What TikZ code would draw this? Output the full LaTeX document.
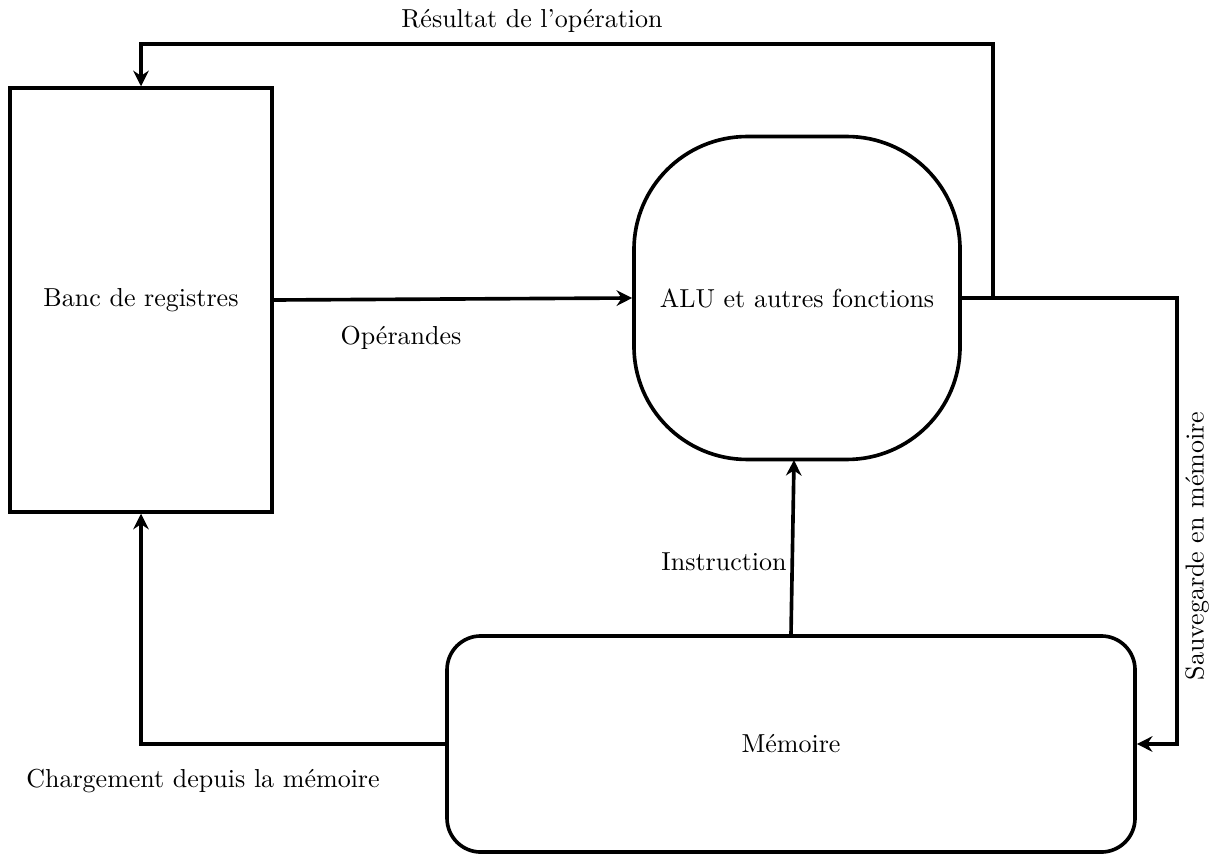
\documentclass[tikz,border=0pt]{standalone}
\usepackage{fontspec}
\usetikzlibrary{arrows.meta}
\begin{document}
\begin{tikzpicture}[x=0.3846pt,y=-0.3846pt,
  blockbox/.style={draw,line width=1.4pt,inner sep=0pt,font=\normalsize},
  arr/.style={line width=1.4pt,-{Stealth[length=6pt,width=6pt,inset=2pt]}},
  lbl/.style={inner sep=0pt,font=\normalsize}]
\useasboundingbox (0,0) rectangle (1216,855);

% blocks
\node[blockbox,minimum width=100.8pt,minimum height=163pt] (banc) at (141,300) {Banc de registres};
\node[blockbox,rounded corners=43.5pt,minimum width=125.4pt,minimum height=124.2pt] (alu) at (797,298) {ALU et autres fonctions};
\node[blockbox,rounded corners=13pt,minimum width=264.6pt,minimum height=83.1pt] (mem) at (791,744) {Mémoire};

% routing points
\coordinate (rtop) at (993,44);
\coordinate (rside) at (1177,298);
\coordinate (instr) at (794,460);

% connectors
\draw[arr] (banc.east) -- (alu.west);
\draw[arr] (alu.east) -| (rtop) -| (banc.north);
\draw[arr] (alu.east) -- (rside) |- (mem.east);
\draw[arr] (mem.north) -- (instr);
\draw[arr] (mem.west) -| (banc.south);

% labels
\node[lbl] (lres) at (532,21) {Résultat de l'opération};
\node[lbl] (lop) at (401,338) {Opérandes};
\node[lbl] (lins) at (724,562) {Instruction};
\node[lbl] (lchg) at (203,781) {Chargement depuis la mémoire};
\node[lbl,rotate=90] (lsav) at (1197,546) {Sauvegarde en mémoire};
\end{tikzpicture}
\end{document}
